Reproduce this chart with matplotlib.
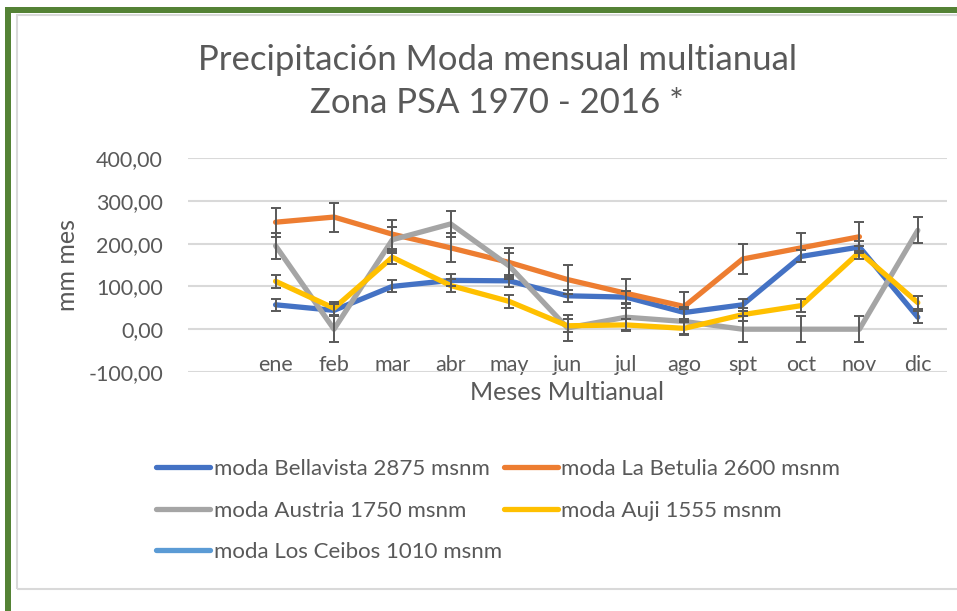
import numpy as np
import matplotlib
matplotlib.use("Agg")
import matplotlib.pyplot as plt
from matplotlib.patches import Rectangle

plt.rcParams['font.family'] = ['Lato', 'DejaVu Sans']

# Meses (la primera banda queda vacía, como en el original)
meses = ["ene", "feb", "mar", "abr", "may", "jun",
         "jul", "ago", "spt", "oct", "nov", "dic"]

# Moda mensual multianual (mm/mes)
bellavista = [57, 44, 100, 114, 113, 78, 75, 39, 57, 170, 192, 28]
betulia = [250, 262, 222, 190, 156, 116, 84, 53, 164, 190, 216, None]
austria = [195, 0, 209, 246, 148, 3, 28, 18, 0, 0, 0, 231]
auji = [112, 49, 168, 102, 65, 8, 10, 2, 34, 55, 180, 62]
ceibos = [None] * 12

# Barras de error (+/-) por serie
err_bellavista = 14
err_betulia = 34
err_austria = 30
err_auji = 15
err_ceibos = 0

nombres = ["moda Bellavista 2875 msnm", "moda La Betulia 2600 msnm",
           "moda Austria 1750 msnm", "moda Auji 1555 msnm",
           "moda Los Ceibos 1010 msnm"]
colores = ["#4472C4", "#ED7D31", "#A5A5A5", "#FFC000", "#5B9BD5"]
series = [bellavista, betulia, austria, auji, ceibos]
errores = [err_bellavista, err_betulia, err_austria, err_auji, err_ceibos]

texto = "#595959"

fig = plt.figure(figsize=(9.57, 6.11), dpi=100)
W, H = 957, 611

# Marcos: borde verde y recuadro gris del gráfico
fig.patches.append(Rectangle((5 / W, 0), 6 / W, 1 - 7 / H, transform=fig.transFigure,
                             facecolor="#548235", edgecolor="none"))
fig.patches.append(Rectangle((5 / W, 1 - 13 / H), 1, 6 / H, transform=fig.transFigure,
                             facecolor="#548235", edgecolor="none"))
fig.patches.append(Rectangle((17 / W, 1 - 589 / H), 1, (589 - 15) / H, transform=fig.transFigure,
                             facecolor="none", edgecolor="#D9D9D9", linewidth=1.5))

ax = fig.add_axes([188 / W, 1 - 372 / H, 759 / W, 214 / H])
ax.set_facecolor("none")
x = np.arange(1, len(meses) + 1)

lineas = []
for vals, err, col, nom in zip(series, errores, colores, nombres):
    y = np.array([np.nan if v is None else v for v in vals], dtype=float)
    ln, = ax.plot(x, y, color=col, linewidth=3.8, label=nom,
                  solid_capstyle="round", solid_joinstyle="round", zorder=3)
    lineas.append(ln)
    if err:
        ax.errorbar(x, y, yerr=err, fmt="none", ecolor="#595959",
                    elinewidth=1.4, capsize=3.8, capthick=1.4, zorder=4)

ax.set_xlim(-0.5, 12.5)
ax.set_ylim(-100, 400)
ax.set_yticks([-100, 0, 100, 200, 300, 400])
ax.set_yticklabels(["-100,00", "0,00", "100,00", "200,00", "300,00", "400,00"])
ax.set_xticks(x)
ax.set_xticklabels(meses)
ax.yaxis.grid(True, color="#D9D9D9", linewidth=1.5, zorder=0)
ax.set_axisbelow(True)
for s in ax.spines.values():
    s.set_visible(False)
ax.tick_params(axis="both", length=0, colors=texto, labelsize=15.5)
ax.tick_params(axis="x", pad=-12)
ax.tick_params(axis="y", pad=18)

ax.set_ylabel("mm mes", fontsize=18, color=texto)
ax.yaxis.set_label_coords(-0.143, 0.5)
ax.set_xlabel("Meses Multianual", fontsize=18, color=texto, labelpad=4)

fig.text(497 / W, 1 - 60 / H, "Precipitación Moda mensual multianual",
         ha="center", va="center", fontsize=25, color=texto)
fig.text(497 / W, 1 - 103 / H, "Zona PSA 1970 - 2016 *",
         ha="center", va="center", fontsize=25, color=texto)

orden = [0, 2, 4, 1, 3]
fig.legend([lineas[i] for i in orden], [nombres[i] for i in orden],
           ncol=2, frameon=False, loc="upper left",
           bbox_to_anchor=(136 / W, 1 - 439 / H),
           fontsize=16, labelcolor=texto, handlelength=2.45,
           handletextpad=0.15, columnspacing=0.08, labelspacing=0.97)

fig.savefig("out.png", dpi=100)
